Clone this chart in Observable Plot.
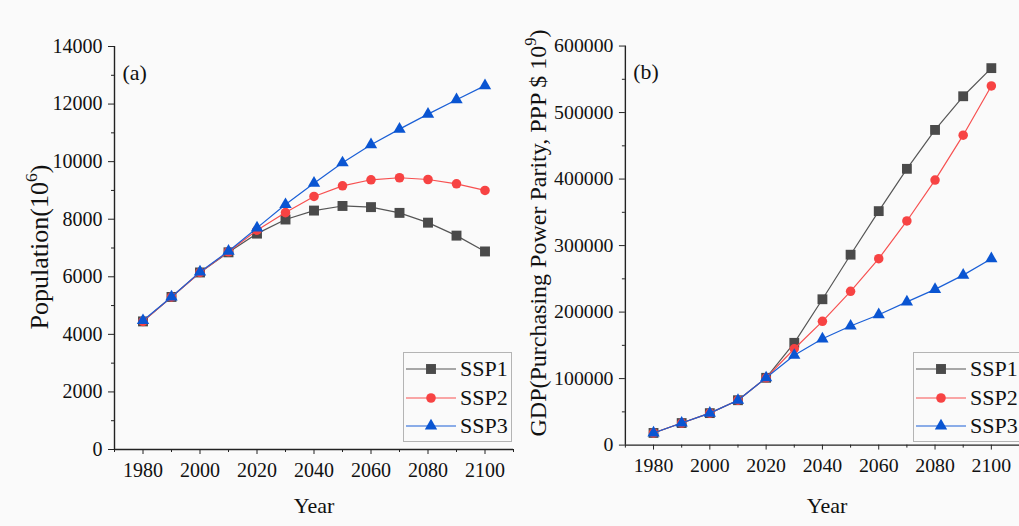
<!DOCTYPE html>
<html><head><meta charset="utf-8">
<script src="https://cdn.jsdelivr.net/npm/d3@7"></script>
<script src="https://cdn.jsdelivr.net/npm/@observablehq/plot@0.6"></script>
<style>
html,body{margin:0;padding:0;background:#fafafa;overflow:hidden;}
#wrap{position:relative;width:1019px;height:526px;overflow:hidden;font-family:"Liberation Serif","Times New Roman",serif;color:#111;background:#fafafa;}
#wrap, #wrap *, #wrap svg, #wrap svg text{font-family:"Liberation Serif","Times New Roman",serif !important;}
.panel{position:absolute;top:0;}
.panel svg{overflow:visible;display:block;}
.ytitle{position:absolute;white-space:nowrap;line-height:1;transform:translate(-50%,-50%) rotate(-90deg);}
.ytitle sup{font-size:0.68em;vertical-align:0;position:relative;top:-0.6em;}
.xtitle{position:absolute;font-size:22px;line-height:1;transform:translate(-50%,-50%);}
.legend{position:absolute;border:1px solid #b4b4b4;background:#fafafa;box-sizing:border-box;}
.legend .row{position:absolute;left:0;height:28px;display:flex;align-items:center;font-size:22px;white-space:nowrap;}
.legend svg{display:block;}
</style></head><body><div id="wrap"></div>
<script>
// ---- data ----
const years = [1980, 1990, 2000, 2010, 2020, 2030, 2040, 2050, 2060, 2070, 2080, 2090, 2100];
const seriesNames = ["SSP1", "SSP2", "SSP3"];
const popSSP1 = [4450, 5300, 6150, 6850, 7500, 7990, 8300, 8460, 8420, 8220, 7880, 7430, 6880];
const popSSP2 = [4450, 5300, 6150, 6870, 7620, 8230, 8790, 9160, 9370, 9440, 9380, 9230, 9000];
const popSSP3 = [4480, 5300, 6170, 6890, 7700, 8510, 9250, 9960, 10590, 11130, 11650, 12150, 12640];
const gdpSSP1 = [18300, 33200, 48100, 67500, 101200, 153800, 219300, 286300, 351800, 415400, 473900, 524500, 566800];
const gdpSSP2 = [18300, 33200, 48100, 67500, 101200, 144900, 186100, 231200, 280300, 337000, 398500, 466000, 540000];
const gdpSSP3 = [18300, 33200, 48100, 67500, 101200, 135000, 159800, 179100, 196100, 215400, 234200, 255600, 280300];
const xMajorTicks = [1980, 2000, 2020, 2040, 2060, 2080, 2100];
const xMinorTicks = [1970, 1990, 2010, 2030, 2050, 2070, 2090, 2110];
const popMajorTicks = [0, 2000, 4000, 6000, 8000, 10000, 12000, 14000];
const popMinorTicks = [1000, 3000, 5000, 7000, 9000, 11000, 13000];
const gdpMajorTicks = [0, 100000, 200000, 300000, 400000, 500000, 600000];
const gdpMinorTicks = [50000, 150000, 250000, 350000, 450000, 550000];

// ---- styles ----
const colors = {SSP1: "#4a4a4a", SSP2: "#f74343", SSP3: "#0a55d2"};
const lineColors = {SSP1: "#555555", SSP2: "#f75050", SSP3: "#1a5fd6"};
const symbols = {SSP1: "square", SSP2: "circle", SSP3: "triangle"};
const radii = {SSP1: 5.6, SSP2: 4.8, SSP3: 4.6};
const FONT = "'Liberation Serif', 'Times New Roman', serif";

function tidy(arrs) {
  return seriesNames.map((s, i) => years.map((yr, j) => ({series: s, year: yr, value: arrs[i][j]})));
}

function makePanel({sets, yMax, major, minor, tag, width, marginLeft, marginRight}) {
  const marks = [
    Plot.axisY({ticks: major, tickSize: 6, tickPadding: 6, label: null, tickFormat: d => String(d), fontSize: 20, fontFamily: FONT, stroke: "#222"}),
    Plot.axisY({ticks: minor, tickSize: 3, label: null, tickFormat: () => "", stroke: "#222"}),
    Plot.axisX({ticks: xMajorTicks, tickSize: 5, tickPadding: 8, label: null, tickFormat: d => String(d), fontSize: 20, fontFamily: FONT, stroke: "#222"}),
    Plot.axisX({ticks: xMinorTicks, tickSize: 3, label: null, tickFormat: () => "", stroke: "#222"}),
    Plot.ruleX([1970], {stroke: "#222", strokeWidth: 1.4}),
    Plot.ruleY([0], {stroke: "#222", strokeWidth: 1.4}),
    Plot.text([tag], {frameAnchor: "top-left", dx: 8, dy: 26, lineAnchor: "middle", textAnchor: "start", fontSize: 22, fontFamily: FONT, fill: "#111"})
  ];
  sets.forEach((d, i) => {
    const s = seriesNames[i];
    marks.push(Plot.line(d, {x: "year", y: "value", stroke: lineColors[s], strokeWidth: 1.2}));
    marks.push(Plot.dot(d, {x: "year", y: "value", symbol: () => symbols[s], fill: colors[s], stroke: "none", r: radii[s]}));
  });
  return Plot.plot({
    width, height: 526, marginLeft, marginRight, marginTop: 46, marginBottom: 77,
    style: {background: "transparent", fontFamily: FONT, fontSize: "20px", color: "#111"},
    x: {domain: [1970, 2110]},
    y: {domain: [0, yMax]},
    symbol: {type: "identity"},
    marks
  });
}

const wrap = document.getElementById("wrap");

function addPanel(left, plot) {
  const d = document.createElement("div");
  d.className = "panel";
  d.style.left = left + "px";
  d.appendChild(plot);
  wrap.appendChild(d);
}

addPanel(0, makePanel({sets: tidy([popSSP1, popSSP2, popSSP3]), yMax: 14000, major: popMajorTicks, minor: popMinorTicks, tag: "(a)", width: 520, marginLeft: 114, marginRight: 7}));
addPanel(510, makePanel({sets: tidy([gdpSSP1, gdpSSP2, gdpSSP3]), yMax: 600000, major: gdpMajorTicks, minor: gdpMinorTicks, tag: "(b)", width: 514, marginLeft: 116, marginRight: 0}));

function addText(cls, html, x, y, size) {
  const d = document.createElement("div");
  d.className = cls;
  d.innerHTML = html;
  d.style.left = x + "px";
  d.style.top = y + "px";
  if (size) d.style.fontSize = size + "px";
  wrap.appendChild(d);
}
addText("ytitle", "Population(10<sup>6</sup>)", 40, 247, 26);
addText("ytitle", "GDP(Purchasing Power Parity, PPP $ 10<sup>9</sup>)", 538, 233, 24);
addText("xtitle", "Year", 314, 506);
addText("xtitle", "Year", 827, 506);

function addLegend(left, top, width) {
  const box = document.createElement("div");
  box.className = "legend";
  box.style.left = left + "px";
  box.style.top = top + "px";
  box.style.width = width + "px";
  box.style.height = "90px";
  seriesNames.forEach((s, i) => {
    const row = document.createElement("div");
    row.className = "row";
    row.style.top = (2 + i * 28.5) + "px";
    const svg = d3.create("svg").attr("width", 56).attr("height", 28);
    svg.append("line").attr("x1", 2).attr("x2", 52).attr("y1", 14).attr("y2", 14)
      .attr("stroke", lineColors[s]).attr("stroke-width", 1.2);
    const sym = {square: d3.symbolSquare, circle: d3.symbolCircle, triangle: d3.symbolTriangle}[symbols[s]];
    svg.append("path").attr("transform", "translate(27,14)")
      .attr("d", d3.symbol(sym, Math.PI * radii[s] * radii[s])()).attr("fill", colors[s]);
    row.appendChild(svg.node());
    const t = document.createElement("span");
    t.textContent = s;
    row.appendChild(t);
    box.appendChild(row);
  });
  wrap.appendChild(box);
}
addLegend(403, 352, 109);
addLegend(913, 352, 120);
</script></body></html>
